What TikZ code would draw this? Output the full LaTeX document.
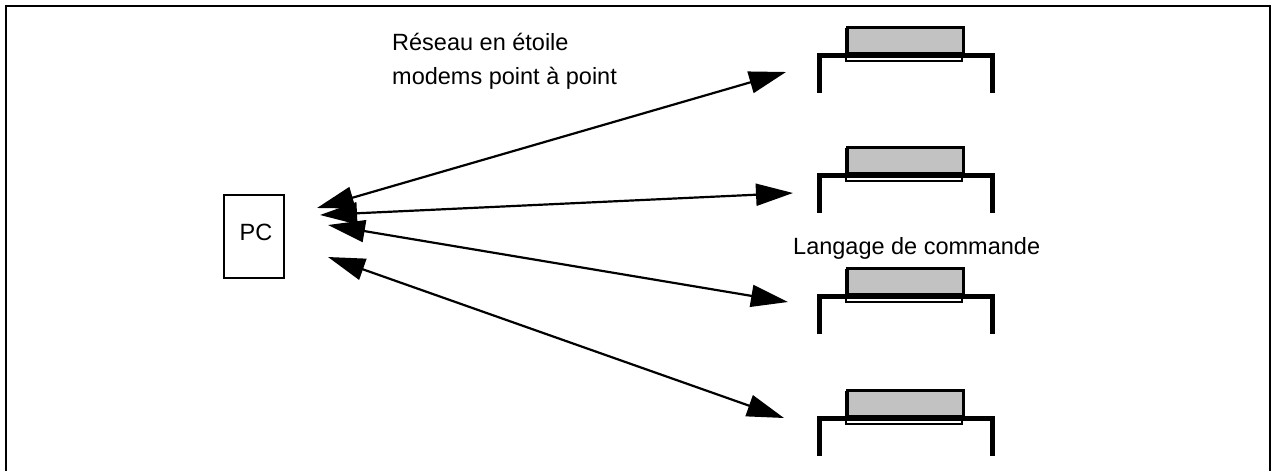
\documentclass[tikz,border=0pt]{standalone}
\usepackage{fontspec}
\setmainfont{Liberation Sans}
\usetikzlibrary{arrows.meta}
\begin{document}
\begin{tikzpicture}[x=1pt,y=-1pt,
  label text/.style={inner sep=0pt,font=\fontsize{23.5}{34}\selectfont},
  link/.style={line width=2.2pt,{Triangle[length=37pt,width=22pt]}-{Triangle[length=37pt,width=22pt]}},
  pcbox/.style={draw,line width=1.8pt,minimum width=60pt,minimum height=83pt,inner sep=0pt},
  screen/.style={draw,line width=2.8pt,fill=gray!48,minimum width=116pt,minimum height=26pt,inner sep=0pt},
  tablebar/.style={line width=5pt},
]
\useasboundingbox (0,0) rectangle (1271,471);

% outer frame
\draw[line width=1.8pt] (6,471) -- (6,6) -- (1270,6) -- (1270,471);

% PC
\node[pcbox] (pc) at (254,236.5) {};
\node[label text,anchor=base] (pclabel) at (256,240) {PC};

% terminals: shaded screen resting on a table with two legs
\foreach \i/\y in {1/55,2/175,3/296,4/418}{
  \draw[line width=2.4pt,fill=white] (846,\y-26) rectangle (962,\y+6);
  \node[screen,anchor=south west] (d\i) at (846,\y) {};
  \draw[tablebar] (817,\y) -- (995,\y);
  \draw[tablebar] (819.5,\y) -- (819.5,\y+38) coordinate (l\i);
  \draw[tablebar] (992.5,\y) -- (992.5,\y+38) coordinate (r\i);
}

% link end points
\coordinate (a1) at (317,208);  \coordinate (b1) at (786,72);
\coordinate (a2) at (320,215);  \coordinate (b2) at (793,193);
\coordinate (a3) at (328,225);  \coordinate (b3) at (788,302);
\coordinate (a4) at (328,257);  \coordinate (b4) at (784,418);

\draw[link] (a1) -- (b1);
\draw[link] (a2) -- (b2);
\draw[link] (a3) -- (b3);
\draw[link] (a4) -- (b4);

% labels
\node[label text,anchor=base west,align=left] (star) at (392,84)
  {Réseau en étoile\\modems point à point};
\node[label text,anchor=base west] (lang) at (793,254) {Langage de commande};
\end{tikzpicture}
\end{document}
